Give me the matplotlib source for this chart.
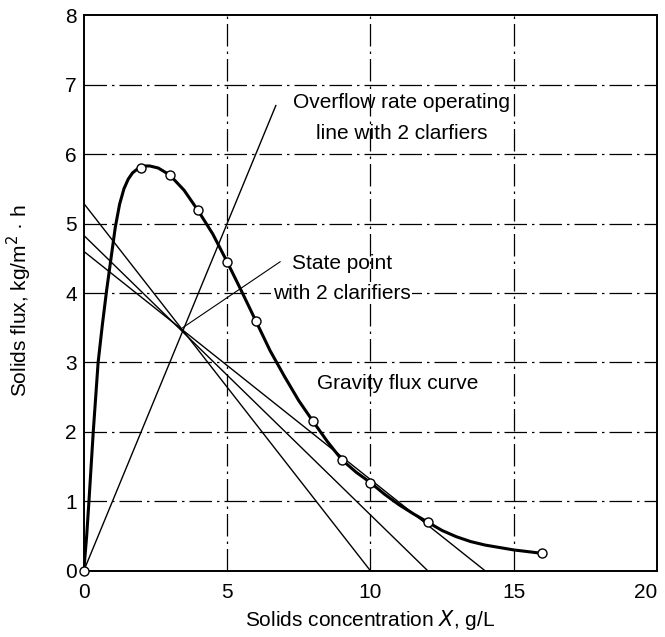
import matplotlib
matplotlib.use('Agg')
import matplotlib.pyplot as plt

plt.rcParams['font.family'] = ['Liberation Sans', 'DejaVu Sans']

# gravity flux curve
curve_x = [0, 0.1, 0.18, 0.33, 0.5, 0.65, 0.8, 0.95, 1.1, 1.25, 1.4, 1.55, 1.7, 1.85, 2.0, 2.15, 2.3,
           2.6, 3.0, 3.5, 4.0, 4.5, 5.0, 5.5, 6.0, 6.5, 7.0, 7.5, 8.0, 8.5, 9.0, 9.5, 10.0,
           10.5, 11.0, 11.5, 12.0, 12.5, 13.0, 13.5, 14.0, 15.0, 16.0]
curve_y = [0, 0.5, 1.0, 2.0, 3.0, 3.55, 4.05, 4.5, 4.95, 5.28, 5.5, 5.64, 5.73, 5.78, 5.81, 5.83, 5.83,
           5.8, 5.7, 5.48, 5.18, 4.85, 4.45, 4.03, 3.6, 3.17, 2.8, 2.45, 2.15, 1.86, 1.6, 1.42, 1.27,
           1.1, 0.95, 0.82, 0.7, 0.58, 0.49, 0.42, 0.37, 0.3, 0.25]

# measured points (open circles)
pts_x = [0, 2, 3, 4, 5, 6, 8, 9, 10, 12, 16]
pts_y = [0, 5.8, 5.7, 5.2, 4.45, 3.6, 2.15, 1.6, 1.27, 0.7, 0.25]

# overflow rate operating line
overflow_x = [0, 6.7]
overflow_y = [0, 6.7]

# underflow lines: y intercept -> x intercept
under_y0 = [5.29, 4.83, 4.6]
under_x0 = [10, 12, 14]

state_pt = (3.45, 3.5)

fig = plt.figure(figsize=(6.65, 6.37), dpi=100)
ax = fig.add_axes([0.126, 0.104, 0.862, 0.872])

# broken-looking grid
for gx in [5, 10, 15]:
    ax.axvline(gx, color='black', lw=0.9, ls=(0, (18, 4, 2, 4)), zorder=1)
for gy in range(1, 8):
    ax.axhline(gy, color='black', lw=0.9, ls=(0, (18, 4, 2, 4)), zorder=1)

ax.plot(overflow_x, overflow_y, color='black', lw=1.0, zorder=2)
for y0, x0 in zip(under_y0, under_x0):
    ax.plot([0, x0], [y0, 0], color='black', lw=1.0, zorder=2)

ax.plot(curve_x, curve_y, color='black', lw=2.2, zorder=3)
ax.plot(pts_x, pts_y, 'o', ms=6.5, mfc='white', mec='black', mew=1.0, zorder=4, clip_on=False)

# state point pointer
ax.plot([state_pt[0], 6.85], [state_pt[1], 4.45], color='black', lw=0.8, zorder=2)

fs = 15
box = dict(facecolor='white', edgecolor='none', pad=1)
ax.text(11.1, 6.75, 'Overflow rate operating', fontsize=fs, ha='center', va='center', zorder=1.5)
ax.text(11.1, 6.3, 'line with 2 clarfiers', fontsize=fs, ha='center', va='center', zorder=1.5)
ax.text(9.0, 4.43, 'State point', fontsize=fs, ha='center', va='center', zorder=1.5)
ax.text(9.0, 4.0, 'with 2 clarifiers', fontsize=fs, ha='center', va='center', bbox=box, zorder=1.5)
ax.text(10.95, 2.7, 'Gravity flux curve', fontsize=fs, ha='center', va='center', zorder=1.5)

ax.set_xlim(0, 20)
ax.set_ylim(0, 8)
ax.set_xticks([0, 5, 10, 15, 20])
ax.set_yticks(range(0, 9))
ax.tick_params(length=0, labelsize=15)
ax.tick_params(axis='x', pad=9)
ax.tick_params(axis='y', pad=5)
ax.get_xticklabels()[-1].set_horizontalalignment('right')
for s in ax.spines.values():
    s.set_linewidth(1.4)

ax.set_xlabel('Solids concentration $\\it{X}$, g/L', fontsize=fs, labelpad=4)
ax.set_ylabel('Solids flux, kg/m$^2$ \u00b7 h', fontsize=fs)
ax.yaxis.set_label_coords(-0.086, 0.486)

plt.savefig('out.png', dpi=100)
